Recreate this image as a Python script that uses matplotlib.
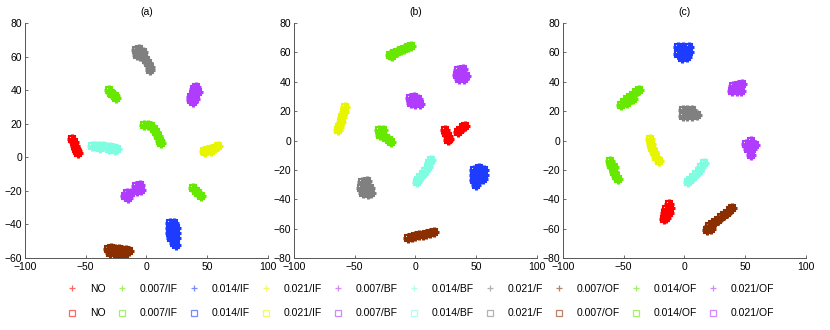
import matplotlib
matplotlib.use('Agg')
import matplotlib.pyplot as plt
from matplotlib.lines import Line2D

plt.rcParams['font.family'] = ['Liberation Sans', 'DejaVu Sans']

# class names and colours (legend order)
labels = ['NO', '0.007/IF', '0.014/IF', '0.021/IF', '0.007/BF',
          '0.014/BF', '0.021/F', '0.007/OF', '0.014/OF', '0.021/OF']
colors = ['#ff0000', '#66e800', '#1e3cff', '#e8f500', '#b03cff',
          '#7ffde0', '#808080', '#8b2e00', '#66e800', '#b03cff']

# cluster points, one list per class, per panel
pts_a = [
    [(-61, 11), (-60, 9), (-59, 7), (-58, 5), (-57, 3.5), (-56, 2.5)],
    [(-31, 40), (-29.5, 38.5), (-28, 37.5), (-26, 36.5), (-25, 35.5),
     (38.5, -18.5), (40.5, -20), (42.5, -21.5), (44.5, -23)],
    [(19, -39), (23, -39), (19.5, -42), (24, -42), (19.5, -45), (24.5, -45),
     (20.5, -48), (24.5, -48), (23, -51), (24, -52)],
    [(47, 4), (50, 4.5), (53, 5), (56, 5.5), (59, 6.5), (48.5, 3), (53, 3.5)],
    [(41, 42), (39, 41), (42, 39), (38.5, 38), (41, 37.5), (37, 36),
     (39.5, 35), (36.5, 34), (38, 33)],
    [(-45, 6.5), (-42, 6.5), (-39, 6.5), (-36, 6.5), (-33, 6), (-30, 6),
     (-27, 5.5), (-24, 5), (-38, 5.5), (-31, 5), (-26, 4.5)],
    [(-9, 64), (-6, 64.5), (-3, 63), (-8, 61), (-5, 60.5), (-2, 60),
     (0, 58), (1.5, 56), (2.5, 54), (3, 52)],
    [(-32, -54.5), (-29, -54), (-26, -54.5), (-23, -54.5), (-20, -55),
     (-17, -55), (-14, -55.5), (-30, -57), (-24, -57.5), (-18, -57.5)],
    [(-2, 19.5), (1, 19), (4, 18.5), (6.5, 17), (7.5, 15), (9.5, 12.5),
     (11, 10), (12, 8.5)],
    [(-9, -17), (-5, -16.5), (-8, -20), (-4.5, -19.5),
     (-13, -21), (-16, -21.5), (-15, -24), (-18, -23)],
]

pts_b = [
    [(24, 7.5), (25, 5), (26.5, 3), (28, 1), (27, 0.5),
     (35, 6), (37, 7.5), (39, 9), (41, 10)],
    [(-21, 58), (-18, 59.5), (-15, 60.5), (-12, 61.5), (-9, 62.5),
     (-6, 63.5), (-3.5, 64.5), (-19, 57.5)],
    [(48, -20), (52, -19), (56, -20), (48, -23.5), (52, -23.5), (56, -23.5),
     (48, -27), (52, -27), (55.5, -26.5), (50, -30.5)],
    [(-58, 23), (-59, 19.5), (-60, 16), (-61.5, 12.5), (-63, 9), (-64, 7.5)],
    [(35, 48), (39, 48.5), (34.5, 44.5), (38.5, 44.5), (42, 44),
     (36, 42), (40, 42)],
    [(13, -13), (11.5, -15.5), (10, -18), (8, -20.5), (6, -23), (4, -25),
     (2, -27), (1, -28.5)],
    [(-44, -28), (-40, -27.5), (-45, -32), (-41, -32), (-37, -32),
     (-43, -36), (-39, -36.5), (-36.5, -35.5)],
    [(-6, -66), (-3, -65.5), (0, -65), (3, -64.5), (6, -64), (9, -63.5),
     (12, -63), (15, -62.5)],
    [(-30, 7), (-27, 7), (-29.5, 4), (-26.5, 4), (-24, 2), (-22, 0.5),
     (-20, -1)],
    [(-4.5, 29), (-1, 29.5), (2.5, 28), (-4, 25.5), (-0.5, 25), (3.5, 25)],
]

pts_c = [
    [(-13, -43), (-12, -46), (-15, -46.5), (-13, -49), (-16, -49.5),
     (-15, -52.5), (-17, -53.5)],
    [(-61, -14), (-60, -16.5), (-59, -19), (-57.5, -21.5), (-56, -24),
     (-54.5, -26.5), (-57.5, -18)],
    [(-5, 63.5), (-1, 64), (3.5, 63.5), (-5, 59), (-1, 59.5), (4, 60),
     (-2, 56.5), (2, 57)],
    [(-28.5, 1), (-27.5, -2), (-26.5, -5), (-25, -8), (-23, -11), (-21, -14)],
    [(40, 37.5), (44, 38), (47.5, 38.5), (39.5, 33.5), (43.5, 33.5),
     (47, 34)],
    [(16, -15.5), (14, -18), (12, -20.5), (9.5, -23), (7, -25), (4.5, -27),
     (3, -28)],
    [(-1.5, 20.5), (2.5, 21), (6.5, 20.5), (-1.5, 17), (2.5, 17),
     (6.5, 16.5), (10.5, 17.5)],
    [(19, -61), (22, -60), (20, -58), (23, -56.5), (25, -55.5),
     (27.5, -54), (30, -52), (32.5, -50.5), (35, -49), (37.5, -47),
     (39, -46)],
    [(-52, 24), (-49.5, 26), (-47, 28), (-44.5, 29.5), (-42, 31),
     (-39.5, 33), (-37.5, 34.5), (-47, 25.5), (-42, 28.5)],
    [(51, -2), (55, -0.5), (58, -3), (52, -5.5), (56, -6), (54.5, -9.5)],
]

panels = [('(a)', pts_a, (-60, 80)), ('(b)', pts_b, (-80, 80)),
          ('(c)', pts_c, (-80, 80))]
lefts = [0.030, 0.354, 0.678]

fig = plt.figure(figsize=(8.3, 3.3), dpi=100)
for (title, pts, ylim), left in zip(panels, lefts):
    ax = fig.add_axes([left, 0.218, 0.293, 0.712])
    for p, c in zip(pts, colors):
        xs = [q[0] for q in p]
        ys = [q[1] for q in p]
        ax.plot(xs, ys, 's', color=c, ms=4.5, mfc='none', mew=1.5)
        ax.plot(xs, ys, '+', color=c, ms=6.5, mew=2.2)
    ax.set_xlim(-100, 100)
    ax.set_ylim(*ylim)
    ax.set_xticks(range(-100, 101, 50))
    ax.set_yticks(range(ylim[0], ylim[1] + 1, 20))
    ax.set_title(title, fontsize=7.5, pad=6)
    for s in ['top', 'right']:
        ax.spines[s].set_visible(False)
    for s in ['left', 'bottom']:
        ax.spines[s].set_color('#555555')
        ax.spines[s].set_linewidth(0.7)
    ax.tick_params(direction='in', length=2.5, width=0.6, labelsize=7.5,
                   colors='#555555', labelcolor='black', pad=2)
    ax.tick_params(axis='x', pad=3)

handles = []
leg_labels = []
for lab, c in zip(labels, colors):
    handles.append(Line2D([], [], ls='none', marker='+', color=c, ms=5,
                          mew=0.9, alpha=0.6))
    leg_labels.append(lab)
    handles.append(Line2D([], [], ls='none', marker='s', color=c, ms=4,
                          mfc='none', mew=0.9, alpha=0.6))
    leg_labels.append(lab)

fig.legend(handles, leg_labels, loc='center', bbox_to_anchor=(0.507, 0.088),
           ncol=10, frameon=False, fontsize=7.5, handlelength=1.0,
           handletextpad=1.2, columnspacing=1.05, labelspacing=1.4)

fig.savefig('out.png', dpi=100)
